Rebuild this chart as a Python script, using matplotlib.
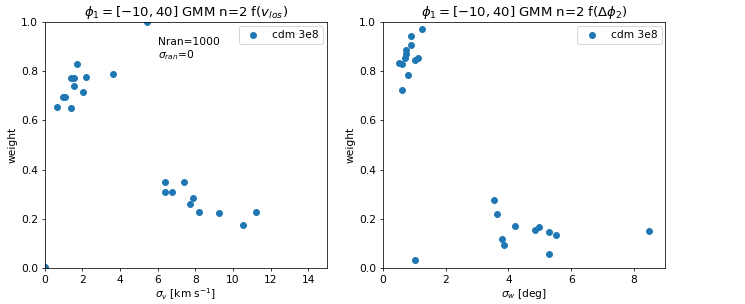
import matplotlib
matplotlib.use('Agg')
import matplotlib.pyplot as plt
import numpy as np

# sigma_v [km/s] vs weight (left panel)
sig_v = [0.0, 5.42, 0.66, 0.98, 1.10, 1.40, 1.39, 1.55, 1.55, 1.74, 2.04, 2.17,
         3.62, 6.39, 6.38, 6.75, 7.41, 7.90, 7.73, 8.21, 9.27, 10.53, 11.22]
w_v = [0.003, 1.0, 0.653, 0.695, 0.694, 0.652, 0.774, 0.772, 0.740, 0.827, 0.715, 0.778,
       0.790, 0.348, 0.309, 0.308, 0.350, 0.286, 0.262, 0.228, 0.225, 0.175, 0.229]

# sigma_w [deg] vs weight (right panel)
sig_w = [1.26, 0.89, 0.88, 0.72, 0.72, 0.69, 0.51, 0.61, 1.03, 1.12, 0.80, 0.61,
         1.03, 3.54, 3.65, 4.22, 4.86, 4.99, 5.29, 5.53, 5.28, 3.79, 3.87, 8.48]
w_w = [0.972, 0.944, 0.908, 0.885, 0.870, 0.854, 0.833, 0.831, 0.846, 0.852, 0.783, 0.723,
       0.031, 0.278, 0.218, 0.172, 0.156, 0.168, 0.148, 0.134, 0.057, 0.118, 0.092, 0.150]

label = 'cdm 3e8'

dpi = 68
plt.rcParams['font.size'] = 11.2
plt.rcParams['axes.titlesize'] = 14
fig = plt.figure(figsize=(745 / dpi, 304 / dpi), dpi=dpi)

# left panel
ax1 = fig.add_axes([0.060, 0.118, 0.379, 0.810])
ax1.scatter(sig_v, w_v, s=40, label=label)
ax1.set_xlim(0, 15)
ax1.set_ylim(0, 1)
ax1.set_xticks([0, 2, 4, 6, 8, 10, 12, 14])
ax1.set_xlabel(r'$\sigma_v$ [km s$^{-1}$]', labelpad=2)
ax1.set_ylabel('weight')
ax1.set_title(r'$\phi_1=[-10,40]$ GMM n=2 f($v_{los}$)')
ax1.text(6.0, 0.94, 'Nran=1000\n' + r'$\sigma_{ran}$=0', va='top')
ax1.legend(loc='upper right', borderaxespad=0.35)

# right panel
ax2 = fig.add_axes([0.514, 0.118, 0.379, 0.810])
ax2.scatter(sig_w, w_w, s=40, label=label)
ax2.set_xlim(0, 9)
ax2.set_ylim(0, 1)
ax2.set_xticks([0, 2, 4, 6, 8])
ax2.set_xlabel(r'$\sigma_w$ [deg]', labelpad=2)
ax2.set_ylabel('weight')
ax2.set_title(r'$\phi_1=[-10,40]$ GMM n=2 f($\Delta\phi_2$)')
ax2.legend(loc='upper right', borderaxespad=0.35)

fig.savefig('out.png', dpi=dpi)
